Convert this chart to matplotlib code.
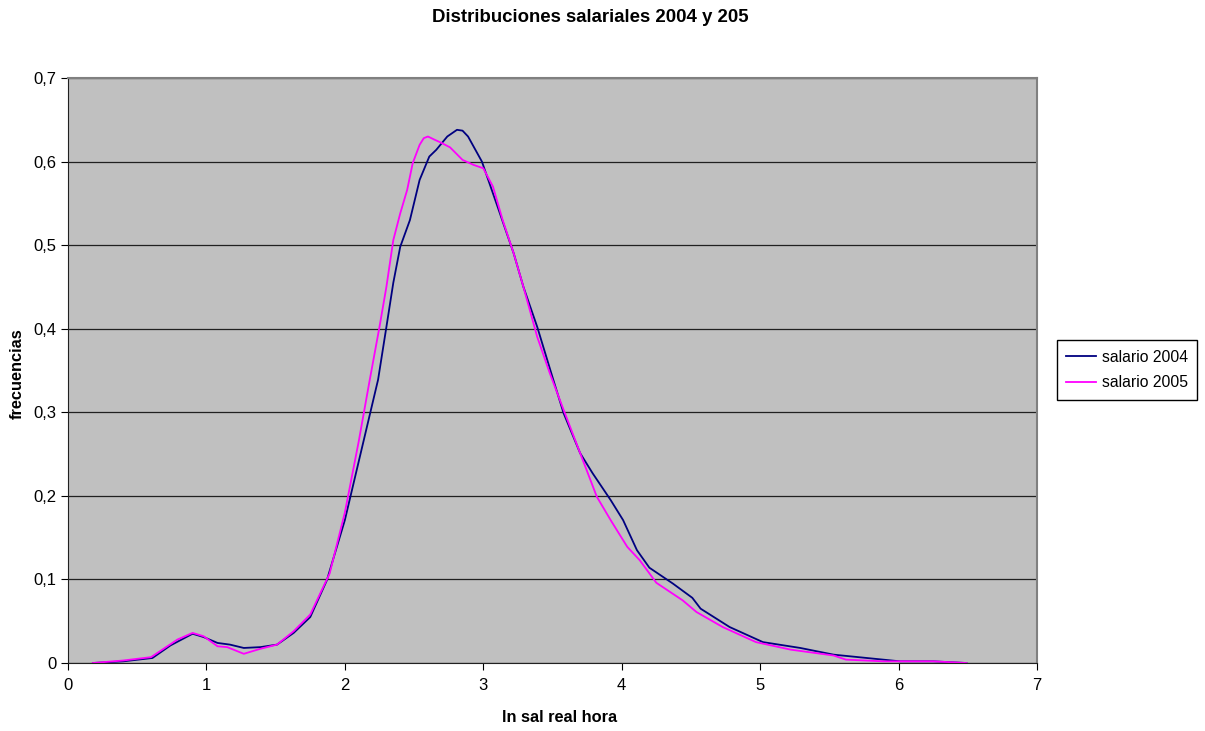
import matplotlib
matplotlib.use("Agg")
import matplotlib.pyplot as plt
from matplotlib.ticker import FuncFormatter, MultipleLocator

plt.rcParams['font.family'] = ['Liberation Sans', 'DejaVu Sans']

# salario 2004 (ln sal real hora, frecuencia)
x04 = [0.18, 0.4, 0.61, 0.74, 0.90, 0.98, 1.08, 1.17, 1.27, 1.39, 1.51, 1.63, 1.75, 1.87,
       2.0, 2.12, 2.24, 2.30, 2.35, 2.40, 2.47, 2.54, 2.61, 2.66, 2.70, 2.74, 2.81, 2.85, 2.89,
       2.93, 2.99, 3.12, 3.22, 3.29, 3.39, 3.50, 3.58, 3.70, 3.79, 3.92, 4.01, 4.11, 4.20,
       4.37, 4.51, 4.57, 4.78, 5.02, 5.29, 5.53, 5.77, 6.01, 6.25, 6.49]
y04 = [0.0, 0.002, 0.006, 0.021, 0.035, 0.031, 0.024, 0.022, 0.018, 0.019, 0.022, 0.036, 0.055, 0.099,
       0.171, 0.255, 0.339, 0.402, 0.455, 0.498, 0.530, 0.578, 0.606, 0.614, 0.622, 0.630, 0.638, 0.637, 0.630,
       0.618, 0.600, 0.538, 0.490, 0.450, 0.402, 0.342, 0.299, 0.251, 0.227, 0.195, 0.171, 0.135, 0.114,
       0.095, 0.078, 0.065, 0.043, 0.025, 0.018, 0.010, 0.006, 0.002, 0.002, 0.0]

# salario 2005
x05 = [0.18, 0.4, 0.60, 0.79, 0.90, 0.98, 1.08, 1.15, 1.27, 1.39, 1.51, 1.63, 1.75, 1.89,
       2.0, 2.10, 2.18, 2.25, 2.30, 2.35, 2.40, 2.45, 2.49, 2.54, 2.57, 2.60, 2.65, 2.69, 2.76,
       2.85, 2.93, 3.00, 3.07, 3.14, 3.22, 3.29, 3.39, 3.48, 3.58, 3.70, 3.82, 3.92, 4.04,
       4.13, 4.25, 4.44, 4.54, 4.73, 4.97, 5.22, 5.53, 5.62, 5.89, 6.25, 6.49]
y05 = [0.0, 0.003, 0.007, 0.028, 0.036, 0.032, 0.020, 0.019, 0.011, 0.017, 0.022, 0.038, 0.058, 0.107,
       0.180, 0.265, 0.339, 0.402, 0.450, 0.506, 0.538, 0.566, 0.598, 0.620, 0.628, 0.630, 0.626, 0.623, 0.617,
       0.602, 0.596, 0.592, 0.570, 0.530, 0.490, 0.450, 0.390, 0.347, 0.303, 0.251, 0.199, 0.171, 0.139,
       0.123, 0.096, 0.075, 0.061, 0.043, 0.025, 0.016, 0.009, 0.004, 0.002, 0.002, 0.0]

fig = plt.figure(figsize=(12.05, 7.31), dpi=100)
ax = fig.add_axes([68/1205, 1-663/731, (1037-68)/1205, (663-78)/731])
ax.set_facecolor('#C0C0C0')

ax.plot(x04, y04, color='#000080', lw=1.3, label='salario 2004')
ax.plot(x05, y05, color='#FF00FF', lw=1.3, label='salario 2005')

ax.set_xlim(0, 7)
ax.set_ylim(0, 0.7)
ax.xaxis.set_major_locator(MultipleLocator(1))
ax.yaxis.set_major_locator(MultipleLocator(0.1))
ax.yaxis.set_major_formatter(FuncFormatter(lambda v, p: ('%g' % round(v, 1)).replace('.', ',')))
ax.grid(axis='y', color='#202020', lw=0.9)
ax.set_axisbelow(True)
for s in ['top', 'right']:
    ax.spines[s].set_color('#808080')
    ax.spines[s].set_linewidth(1.5)
for s in ['left', 'bottom']:
    ax.spines[s].set_color('#202020')
ax.tick_params(direction='out', length=5, labelsize=12, colors='black')
ax.tick_params(axis='x', pad=6)

ax.set_xlabel('ln sal real hora', fontsize=11.8, fontweight='bold', va='center')
ax.set_ylabel('frecuencias', fontsize=11.8, fontweight='bold', va='center')
ax.xaxis.set_label_coords((560-68)/969, (663-718)/585)
ax.yaxis.set_label_coords((17-68)/969, (663-374)/585)
fig.text(590/1205, 1-18/731, 'Distribuciones salariales 2004 y 205', ha='center', va='center',
         fontsize=13.4, fontweight='bold')

leg = fig.legend(loc='center left', bbox_to_anchor=(1057/1205, 1-370/731), fontsize=11.3,
                 fancybox=False, edgecolor='black', framealpha=1, handlelength=1.9,
                 handletextpad=0.35, borderpad=0.6, labelspacing=0.65, borderaxespad=0)
leg.get_frame().set_linewidth(1)

fig.savefig('out.png', dpi=100)
